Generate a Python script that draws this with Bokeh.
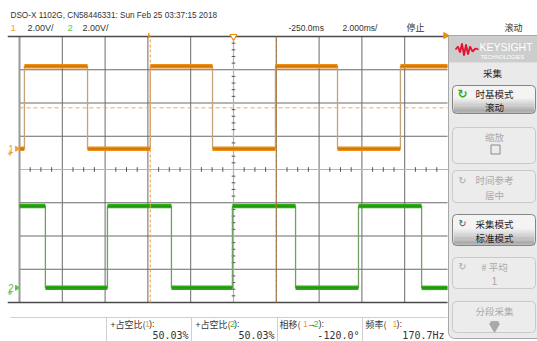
import numpy as np
from bokeh.plotting import figure
from bokeh.models import Range1d
from bokeh.core.properties import value
from bokeh.embed import file_html
from bokeh.resources import INLINE

# ---------------- data ----------------
title_text = "DSO-X 1102G, CN58446331: Sun Feb 25 03:37:15 2018"
ch_names = ["1", "2"]
ch_scale_labels = ["2.00V/", "2.00V/"]
delay_label = "-250.0ms"
timebase_label = "2.000ms/"
run_state = "停止"
mode_label = "滚动"

time_per_div_ms = 2.0
volts_per_div = 2.0
n_time_div = 10
n_volt_div = 8

# channel 1 (orange) edges, ms from left edge of screen
ch1_rise_ms = [0.23, 6.11, 11.96, 17.80]
ch1_fall_ms = [3.18, 9.02, 14.86]
ch1_low_v = 0.0
ch1_high_v = 4.96
ch1_center_v = -1.25

# channel 2 (green)
ch2_rise_ms = [4.11, 9.95, 15.84]
ch2_fall_ms = [1.21, 7.10, 12.90, 18.79]
ch2_low_v = 0.0
ch2_high_v = 4.92
ch2_center_v = 7.12

trigger_level_v = 2.46
marker_times_ms = [6.11, 12.0]

meas_labels = [["+占空比(", "1", "):"], ["+占空比(", "2", "):"],
               ["相移(", "1", "→", "2", "):"], ["频率(", "1", "):"]]
meas_values = ["50.03%", "50.03%", "-120.0°", "170.7Hz"]

panel_title = "采集"
softkeys = [("时基模式", "滚动", "active"), ("缩放", "□", "disabled"),
            ("时间参考", "居中", "disabled"), ("采集模式", "标准模式", "active"),
            ("# 平均", "1", "disabled"), ("分段采集", "▼", "disabled")]

# ---------------- layout constants ----------------
W, H = 537, 341
GX0, GX1 = 19, 447
GY0, GY1 = 36, 302
CY = (GY0 + GY1) / 2
px_per_ms = (GX1 - GX0) / (n_time_div * time_per_div_ms)
px_per_v = (GY1 - GY0) / (n_volt_div * volts_per_div)
px_per_div_y = (GY1 - GY0) / n_volt_div

ORANGE = "#ec8e12"
ORANGE_D = "#c86e06"
GREEN = "#2fae18"
GREEN_D = "#1b870c"
TXT = "#333333"
NARROW = "Liberation Sans"
CJK = "Noto Sans CJK SC"
MONO = "DejaVu Sans Mono"

def vrange(center):
    return Range1d(center - (H - CY) / px_per_v, center + CY / px_per_v)

p = figure(width=W, height=H, x_range=Range1d(0, W), y_range=Range1d(H, 0),
           output_backend="svg", toolbar_location=None, min_border=0,
           x_axis_location=None, y_axis_location=None)
p.grid.visible = False
p.outline_line_color = None
p.background_fill_color = "white"
p.border_fill_color = "white"
p.extra_x_ranges = {"t": Range1d(-GX0 / px_per_ms, (W - GX0) / px_per_ms)}
p.extra_y_ranges = {"v1": vrange(ch1_center_v), "v2": vrange(ch2_center_v),
                    "divy": Range1d(-(H - CY) / px_per_div_y, CY / px_per_div_y)}

def txt(x, y, s, color=TXT, size=9, font=NARROW, align="left", baseline="middle",
        xr=None, yr=None, style="normal"):
    kw = {}
    if xr: kw["x_range_name"] = xr
    if yr: kw["y_range_name"] = yr
    p.text(x=[x], y=[y], text=[s], text_color=color, text_font=value(font),
           text_font_size=f"{size}px", text_align=align, text_baseline=baseline,
           text_font_style=style, **kw)

# ---------------- grid ----------------
t_total = n_time_div * time_per_div_ms
tg = [i * time_per_div_ms for i in range(n_time_div + 1)]
dg = [i - n_volt_div / 2 for i in range(n_volt_div + 1)]
p.segment(x0=tg[1:-1], x1=tg[1:-1], y0=[-4] * (len(tg) - 2), y1=[4] * (len(tg) - 2),
          x_range_name="t", y_range_name="divy", line_color="#6a6a6a", line_width=1)
p.segment(x0=[0] * (len(dg) - 2), x1=[t_total] * (len(dg) - 2), y0=dg[1:-1], y1=dg[1:-1],
          x_range_name="t", y_range_name="divy", line_color="#6a6a6a", line_width=1)
# centre cross (lighter) with minor ticks
p.segment(x0=[t_total / 2], x1=[t_total / 2], y0=[-4], y1=[4], x_range_name="t",
          y_range_name="divy", line_color="#b4b4b4", line_width=1.2)
p.segment(x0=[0], x1=[t_total], y0=[0], y1=[0], x_range_name="t",
          y_range_name="divy", line_color="#b4b4b4", line_width=1.2)
mt = [i * time_per_div_ms / 4 for i in range(n_time_div * 4 + 1) if i % 4]
p.segment(x0=mt, x1=mt, y0=[-0.07] * len(mt), y1=[0.07] * len(mt), x_range_name="t",
          y_range_name="divy", line_color="#555555", line_width=1)
my = [i / 5 - 4 for i in range(n_volt_div * 5 + 1) if i % 5]
dx = 1.8 / px_per_ms
p.segment(x0=[t_total / 2 - dx] * len(my), x1=[t_total / 2 + dx] * len(my), y0=my, y1=my,
          x_range_name="t", y_range_name="divy", line_color="#555555", line_width=1)
# borders
p.segment(x0=[0], x1=[0], y0=[-4], y1=[4], x_range_name="t", y_range_name="divy",
          line_color="#9a9a9a", line_width=2)
p.segment(x0=[-0.55, -0.55], x1=[t_total, t_total], y0=[4, -4], y1=[4, -4],
          x_range_name="t", y_range_name="divy", line_color="#4a4a4a", line_width=1.3)

# ---------------- traces ----------------
def levels(rises, falls, lo, hi):
    edges = sorted([(t, hi) for t in rises] + [(t, lo) for t in falls])
    lvl = lo if edges[0][1] == hi else hi
    x0, x1, ys, tp = [], [], [], 0.0
    for t, new in edges:
        x0.append(tp); x1.append(t); ys.append(lvl)
        tp, lvl = t, new
    x0.append(tp); x1.append(t_total); ys.append(lvl)
    return x0, x1, ys, [e[0] for e in edges]

for rises, falls, lo, hi, rn, c, cd, ce in [
        (ch1_rise_ms, ch1_fall_ms, ch1_low_v, ch1_high_v, "v1", ORANGE, ORANGE_D, "#c4a27a"),
        (ch2_rise_ms, ch2_fall_ms, ch2_low_v, ch2_high_v, "v2", GREEN, GREEN_D, "#739f66")]:
    x0, x1, ys, ed = levels(rises, falls, lo, hi)
    p.segment(x0=ed, x1=ed, y0=[lo] * len(ed), y1=[hi] * len(ed), x_range_name="t",
              y_range_name=rn, line_color=ce, line_width=1.3)
    p.segment(x0=x0, x1=x1, y0=ys, y1=ys, x_range_name="t", y_range_name=rn,
              line_color=c, line_width=4.5, line_cap="butt")
    p.segment(x0=x0, x1=x1, y0=ys, y1=ys, x_range_name="t", y_range_name=rn,
              line_color=cd, line_width=1.4, line_cap="butt", line_alpha=0.8)

# markers / trigger level
p.segment(x0=marker_times_ms, x1=marker_times_ms, y0=[-4] * 2, y1=[4] * 2,
          x_range_name="t", y_range_name="divy", line_color=["#f0a050", "#c8782a"],
          line_width=1.1, line_dash="3 2")
p.segment(x0=[0], x1=[t_total], y0=[trigger_level_v], y1=[trigger_level_v],
          x_range_name="t", y_range_name="v1", line_color="#f2a65a",
          line_width=1, line_dash="4 3")

# top ruler markers
p.segment(x0=[marker_times_ms[0] - 0.07], x1=[marker_times_ms[0] - 0.07], y0=[4.1],
          y1=[3.95], x_range_name="t", y_range_name="divy", line_color=ORANGE, line_width=1.5)
p.scatter(x=[t_total / 2], y=[4.0], marker="inverted_triangle", size=7,
          x_range_name="t", y_range_name="divy", fill_color="white",
          line_color=ORANGE, line_width=1.2)

# channel ground markers
for nm, rn, c in [("1", "v1", "#f0a040"), ("2", "v2", "#5cc64a")]:
    p.scatter(x=[-0.12], y=[0.0], marker="triangle", angle=-np.pi / 2, size=5,
              x_range_name="t", y_range_name=rn, color=c)
    p.text(x=[-0.4], y=[0.0], text=[nm], text_color=c, text_font=value(NARROW),
           text_font_size="10px", text_align="center", text_baseline="middle",
           x_range_name="t", y_range_name=rn)
    p.segment(x0=[-0.45, -0.55, -0.5], x1=[-0.45, -0.35, -0.4],
              y0=[-0.1, -0.3, -0.38], y1=[-0.3, -0.3, -0.38],
              x_range_name="t", y_range_name=rn, line_color=c, line_width=1)

# ---------------- header ----------------
txt(10, 15, title_text, size=8.2)
txt(10, 27, ch_names[0], color="#f0a040", size=9.5)
txt(27, 27, ch_scale_labels[0], size=9)
txt(67, 27, ch_names[1], color="#5cc64a", size=9.5)
txt(82, 27, ch_scale_labels[1], size=9)
txt(288, 27, delay_label, size=8.5)
txt(342, 27, timebase_label, size=8.5)
txt(415, 27, run_state, font=CJK, size=9, align="center")
txt(513, 27, mode_label, font=CJK, size=9, align="center")

# ---------------- measurements ----------------
p.segment(x0=[10], x1=[GX1], y0=[317], y1=[317], line_color="#cfcfcf", line_width=1)
box_l = [106, 191, 277, 362]
box_r = [191, 277, 362, 447]
p.segment(x0=box_l, x1=box_l, y0=[317] * 4, y1=[H] * 4, line_color="#cfcfcf", line_width=1)
piece_x = [[110, 144.5, 148.5], [195, 229.5, 233.5], [279, 302.5, 306.5, 313, 318], [365, 392, 396]]
for parts, xs in zip(meas_labels, piece_x):
    for s, x in zip(parts, xs):
        col = TXT
        if s == "1": col = "#f0a040"
        elif s == "2": col = "#4cb83a"
        f = NARROW if s in ("1", "2", "):", "→") else CJK
        txt(x, 323.5, s, color=col, size=9, font=f)
for v, r in zip(meas_values, box_r):
    txt(r - 3, 334.5, v, size=10, font=MONO, align="right")

# ---------------- right panel ----------------
p.quad(left=[GX1 + 1], right=[W + 6], top=[35], bottom=[338], fill_color="#eaeaea",
       line_color="#a8a8a8", line_width=1, border_radius=(0, 0, 0, 6))
p.quad(left=[GX1 + 1.5], right=[W + 6], top=[35.5], bottom=[62], fill_color="#cdcdcd",
       line_color=None)
p.scatter(x=[GX1 - 2], y=[35], marker="triangle", angle=-np.pi / 2, size=6, color=ORANGE)
# logo
wx = [455, 457.5, 459.5, 461.5, 463.5, 465.5, 467.5, 469.5, 472, 475, 478]
wy = [49, 46, 52, 43, 55, 44, 54, 46, 51, 48, 49]
p.line(x=wx, y=wy, line_color="#e3142f", line_width=1.8)
txt(479, 46, "KEYSIGHT", color="white", size=10.5, font="Liberation Sans")
txt(480, 56, "TECHNOLOGIES", color="white", size=5.5, font="Liberation Sans")
txt(492, 72, panel_title, font=CJK, size=9.5, color="#222222", align="center")

box_tops = [85, 127, 170, 214, 257, 301]
box_bots = [113, 163, 202, 245, 288, 332]
for (l1, l2, st), t, b in zip(softkeys, box_tops, box_bots):
    if st == "active":
        p.quad(left=[452], right=[535], top=[t], bottom=[b], fill_color="#f4f4f4",
               line_color=None, border_radius=4)
        n = 12
        mid = t + (b - t) * 0.45
        edges_y = np.linspace(mid, b - 1, n + 1)
        cols = np.linspace(0xf0, 0xa6, n).astype(int)
        p.quad(left=[453] * n, right=[534] * n, top=list(edges_y[:-1]),
               bottom=list(edges_y[1:] + 0.3),
               fill_color=["#%02x%02x%02x" % (c, c, c) for c in cols], line_color=None)
        p.quad(left=[452], right=[535], top=[t], bottom=[b], fill_color=None,
               line_color="#858585", line_width=1, border_radius=4)
        tc, ic = "#222222", ("#3aa81e" if l1 == "时基模式" else "#555555")
    else:
        p.quad(left=[452], right=[535], top=[t], bottom=[b], fill_color="#ececec",
               line_color="#c9c9c9", line_width=1, border_radius=4)
        tc, ic = "#a9a9a9", "#a9a9a9"
    y1 = t + (b - t) * 0.3 if l2 != "□" else t + 9
    y2 = t + (b - t) * 0.76 if l2 != "□" else t + 22
    txt(494, y1, l1, color=tc, font=CJK, size=9.5, align="center")
    if l2 == "□":
        p.quad(left=[490.5], right=[499.5], top=[y2 - 4.5], bottom=[y2 + 4.5],
               fill_color=None, line_color="#8a8a8a", line_width=1)
    elif l2 == "▼":
        p.quad(left=[490], right=[498], top=[y2 - 4], bottom=[y2], fill_color="#a9a9a9",
               line_color=None)
        p.scatter(x=[494], y=[y2 + 1.5], marker="inverted_triangle", size=10,
                  color="#a9a9a9")
    else:
        txt(494, y2, l2, color=tc,
            font=(CJK if l2 != "1" else NARROW), size=(9.5 if l2 != "1" else 10.5),
            align="center")
    if l1 in ("时基模式", "时间参考", "采集模式", "# 平均"):
        txt(462, y1, "↻", color=ic, font="DejaVu Sans", size=(12 if ic == "#3aa81e" else 10),
            align="center", style=("bold" if ic == "#3aa81e" else "normal"))

open("out.html", "w").write(file_html(p, INLINE))
